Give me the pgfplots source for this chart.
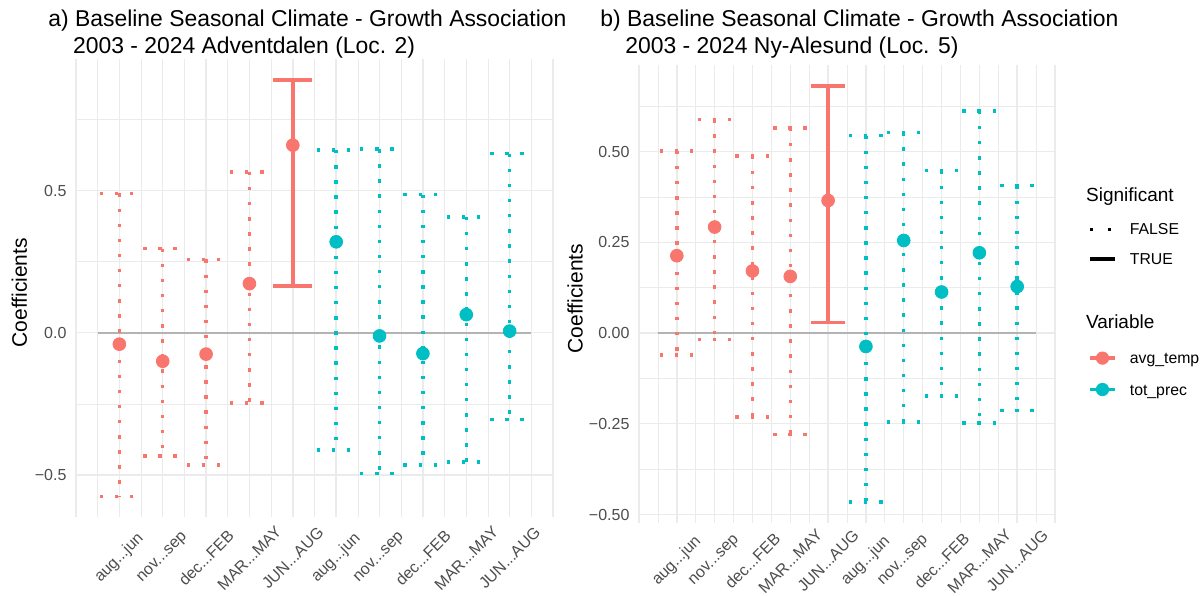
\documentclass[border=0pt]{standalone}
\usepackage{fontspec}
\setmainfont{Liberation Sans}
\usepackage{pgfplots}
\pgfplotsset{compat=1.18}

\definecolor{pred}{HTML}{F8766D}
\definecolor{pteal}{HTML}{00BFC4}
\definecolor{gridc}{HTML}{EBEBEB}
\definecolor{tgray}{HTML}{4D4D4D}
\definecolor{zline}{HTML}{B3B3B3}

\newcommand{\dd}{.{}.{}.}

\pgfplotsset{
  eF/.style={line width=1.7pt, dash pattern=on 1.7pt off 5.85pt, line cap=butt, forget plot, mark=none},
  eT/.style={line width=1.9pt, solid, forget plot, mark=none},
  pt/.style={only marks, mark=*, mark size=3.2pt, mark options={draw=none}, forget plot},
  panel/.style={
    scale only axis, anchor=south west,
    xmin=0, xmax=11,
    axis line style={draw=none},
    tick style={draw=none}, major tick length=0pt, minor tick length=0pt,
    grid=both,
    major grid style={gridc, line width=0.7pt},
    minor grid style={gridc, line width=0.35pt},
    xtick={0,1,2,3,4,5,6,7,8,9,10,11},
    xticklabels={,aug\dd jun,nov\dd sep,dec\dd FEB,MAR\dd MAY,JUN\dd AUG,aug\dd jun,nov\dd sep,dec\dd FEB,MAR\dd MAY,JUN\dd AUG,},
    minor xtick={0.5,1.5,2.5,3.5,4.5,5.5,6.5,7.5,8.5,9.5,10.5},
    yticklabel style={font=\fontsize{8}{9.6}\selectfont, text=tgray, inner sep=0pt, xshift=-4.6pt, anchor=east},
    ylabel={Coefficients},
  },
}

% one error bar: style, x-left, x, x-right, lower, upper
\newcommand{\ebar}[6]{%
  \addplot[#1] coordinates {(#2,#6) (#4,#6)};
  \addplot[#1] coordinates {(#3,#6) (#3,#5)};
  \addplot[#1] coordinates {(#2,#5) (#4,#5)};}

\begin{document}
\begin{tikzpicture}
\path[use as bounding box] (0,0) rectangle (602pt,297.5pt);

% a) Adventdalen
\begin{axis}[panel, at={(38pt,39pt)}, width=238.5pt, height=228.85pt,
  ymin=-0.648, ymax=0.962,
  ytick={-0.5,0,0.5}, yticklabels={−0.5,0.0,0.5},
  minor ytick={-0.25,0.25,0.75},
  xticklabel style={font=\fontsize{8}{9.6}\selectfont, text=tgray, inner sep=0pt, yshift=-20.5pt, rotate=45, anchor=center},
  every axis y label/.style={at={(axis description cs:0,0.5)}, xshift=-28.35pt, yshift=-2.3pt, rotate=90, anchor=center, font=\fontsize{10.5}{12}\selectfont}]
\addplot[zline, line width=0.8pt, forget plot] coordinates {(0.5,0) (10.5,0)};
\ebar{pred,eF}{0.55}{1}{1.45}{-0.575}{0.490}
\ebar{pred,eF}{1.55}{2}{2.45}{-0.433}{0.296}
\ebar{pred,eF}{2.55}{3}{3.45}{-0.465}{0.258}
\ebar{pred,eF}{3.55}{4}{4.45}{-0.247}{0.566}
\ebar{pred,eT}{4.55}{5}{5.45}{0.166}{0.889}
\ebar{pteal,eF}{5.55}{6}{6.45}{-0.412}{0.643}
\ebar{pteal,eF}{6.55}{7}{7.45}{-0.496}{0.646}
\ebar{pteal,eF}{7.55}{8}{8.45}{-0.465}{0.486}
\ebar{pteal,eF}{8.55}{9}{9.45}{-0.455}{0.408}
\ebar{pteal,eF}{9.55}{10}{10.45}{-0.304}{0.630}
\addplot[pt, pred] coordinates {(1,-0.040) (2,-0.100) (3,-0.075) (4,0.173) (5,0.660)};
\addplot[pt, pteal] coordinates {(6,0.320) (7,-0.011) (8,-0.073) (9,0.064) (10,0.006)};
\end{axis}

% b) Ny-Alesund
\begin{axis}[panel, at={(319.5pt,36pt)}, width=208pt, height=229pt,
  ymin=-0.5234, ymax=0.7384,
  ytick={-0.5,-0.25,0,0.25,0.5}, yticklabels={−0.50,−0.25,0.00,0.25,0.50},
  minor ytick={-0.375,-0.125,0.125,0.375,0.625},
  xticklabel style={font=\fontsize{8}{9.6}\selectfont, text=tgray, inner sep=0pt, yshift=-19pt, rotate=45, anchor=center},
  every axis y label/.style={at={(axis description cs:0,0.5)}, xshift=-32pt, yshift=-2.3pt, rotate=90, anchor=center, font=\fontsize{10.5}{12}\selectfont}]
\addplot[zline, line width=0.8pt, forget plot] coordinates {(0.5,0) (10.5,0)};
\ebar{pred,eF}{0.55}{1}{1.45}{-0.061}{0.502}
\ebar{pred,eF}{1.55}{2}{2.45}{-0.018}{0.589}
\ebar{pred,eF}{2.55}{3}{3.45}{-0.231}{0.488}
\ebar{pred,eF}{3.55}{4}{4.45}{-0.279}{0.565}
\ebar{pred,eT}{4.55}{5}{5.45}{0.029}{0.681}
\ebar{pteal,eF}{5.55}{6}{6.45}{-0.466}{0.544}
\ebar{pteal,eF}{6.55}{7}{7.45}{-0.245}{0.553}
\ebar{pteal,eF}{7.55}{8}{8.45}{-0.174}{0.448}
\ebar{pteal,eF}{8.55}{9}{9.45}{-0.248}{0.612}
\ebar{pteal,eF}{9.55}{10}{10.45}{-0.213}{0.406}
\addplot[pt, pred] coordinates {(1,0.213) (2,0.292) (3,0.171) (4,0.156) (5,0.365)};
\addplot[pt, pteal] coordinates {(6,-0.037) (7,0.255) (8,0.113) (9,0.221) (10,0.128)};
\end{axis}

% legend: Significant
\begin{axis}[at={(0pt,0pt)}, anchor=south west, scale only axis, width=602pt, height=297.5pt,
  hide axis, xmin=0, xmax=1, ymin=0, ymax=1,
  legend cell align=left,
  legend style={draw=none, fill=none, inner sep=0pt, outer sep=0pt,
    at={(axis description cs:0.9037,0.6242)}, anchor=north west,
    row sep=9.34pt, column sep=6.5pt, cells={anchor=west},
    nodes={inner sep=0pt, text depth=0pt},
    font=\fontsize{7.9}{9}\selectfont}]
\addlegendimage{legend image code/.code={\draw[black, line width=1.7pt, dash pattern=on 1.7pt off 7.15pt] (0pt,0pt) -- (12.5pt,0pt);}}
\addlegendentry[text height=5.66pt, text depth=0pt]{FALSE}
\addlegendimage{legend image code/.code={\draw[black, line width=1.9pt] (0pt,0pt) -- (12.5pt,0pt);}}
\addlegendentry[text height=5.66pt, text depth=0pt]{TRUE}
\end{axis}

% legend: Variable
\begin{axis}[at={(0pt,0pt)}, anchor=south west, scale only axis, width=602pt, height=297.5pt,
  hide axis, xmin=0, xmax=1, ymin=0, ymax=1,
  legend cell align=left,
  legend style={draw=none, fill=none, inner sep=0pt, outer sep=0pt,
    at={(axis description cs:0.9037,0.4092)}, anchor=north west,
    row sep=9.1pt, column sep=6.5pt, cells={anchor=west},
    nodes={inner sep=0pt, text depth=0pt},
    font=\fontsize{7.9}{9}\selectfont}]
\addlegendimage{legend image code/.code={\draw[pred, line width=1.9pt] (0pt,0pt) -- (12.5pt,0pt); \fill[pred] (6.25pt,0pt) circle (3.1pt);}}
\addlegendentry[text height=5.66pt, text depth=0pt]{avg\_temp}
\addlegendimage{legend image code/.code={\draw[pteal, line width=1.9pt] (0pt,0pt) -- (12.5pt,0pt); \fill[pteal] (6.25pt,0pt) circle (3.1pt);}}
\addlegendentry[text height=5.66pt, text depth=0pt]{tot\_prec}
\end{axis}

% titles
\begin{scope}[every node/.style={anchor=base west, inner sep=0pt, font=\fontsize{11.45}{13.7}\selectfont}]
\node at (24pt,284.15pt) {a) Baseline Seasonal Climate - Growth Association};
\node at (36.35pt,270.85pt) {2003 - 2024 Adventdalen (Loc. 2)};
\node at (300pt,284.15pt) {b) Baseline Seasonal Climate - Growth Association};
\node at (312.5pt,270.85pt) {2003 - 2024 Ny-Alesund (Loc. 5)};
\end{scope}
\begin{scope}[every node/.style={anchor=base west, inner sep=0pt, font=\fontsize{9.5}{11}\selectfont}]
\node at (542.85pt,196.65pt) {Significant};
\node at (542.85pt,133pt) {Variable};
\end{scope}
\end{tikzpicture}
\end{document}
